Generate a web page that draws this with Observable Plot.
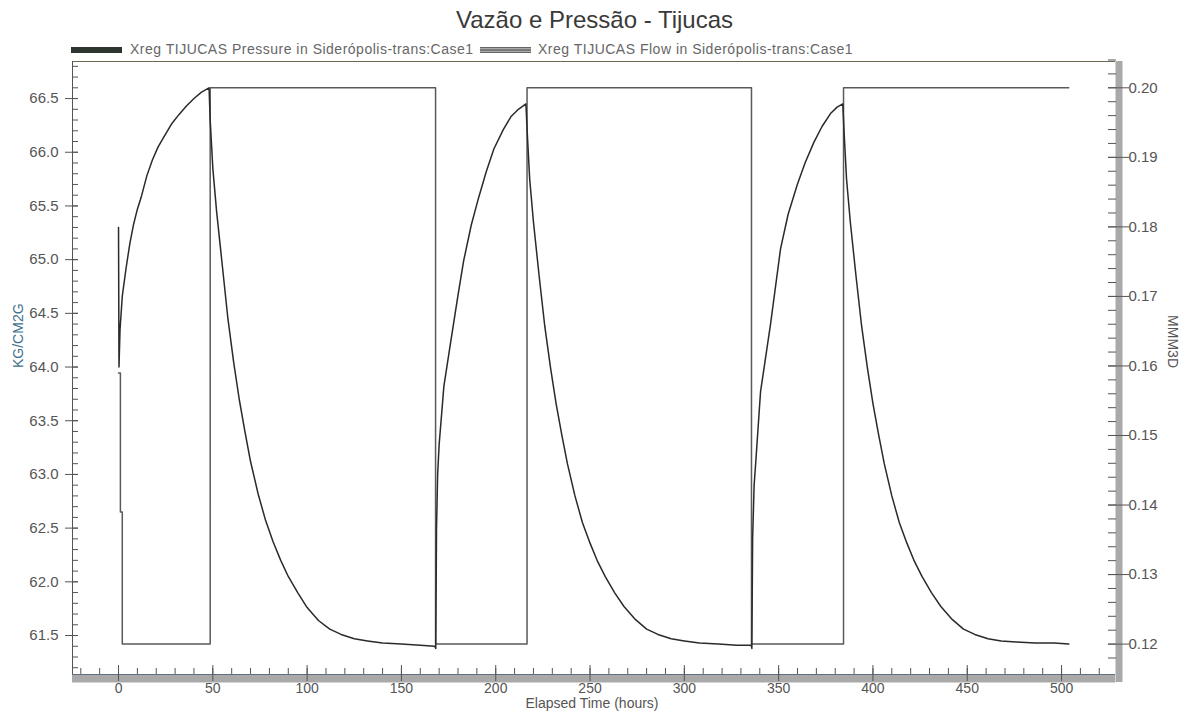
<!DOCTYPE html>
<html><head><meta charset="utf-8">
<script src="https://cdn.jsdelivr.net/npm/d3@7"></script>
<script src="https://cdn.jsdelivr.net/npm/@observablehq/plot@0.6"></script>
<style>
body{margin:0;background:#fff;font-family:"Liberation Sans",Arial,sans-serif;}
#wrap{position:relative;width:1189px;height:715px;overflow:hidden}
#head{position:relative;height:56px}
#title{position:absolute;left:0;top:6px;width:1189px;text-align:center;font-size:24px;color:#3a3a3a;line-height:28px}
.lg{position:absolute;top:41px;font-size:14px;letter-spacing:0.5px;line-height:17px;color:#666;white-space:nowrap}
.sw{position:absolute;top:47px;height:6px;width:51px}
#sw1{left:71px;background:#2d352e}
#sw2{left:480px;background:linear-gradient(#666 0 1px,#aaa 1px 2px,#7a7a7a 2px 4px,#aaa 4px 5px,#666 5px 6px)}
#chart svg{display:block}
</style></head>
<body>
<div id="wrap">
 <div id="head">
  <div id="title">Vazão e Pressão - Tijucas</div>
  <div class="sw" id="sw1"></div><div class="lg" style="left:130px">Xreg TIJUCAS Pressure in Siderópolis-trans:Case1</div>
  <div class="sw" id="sw2"></div><div class="lg" style="left:538px">Xreg TIJUCAS Flow in Siderópolis-trans:Case1</div>
 </div>
 <div id="chart"></div>
</div>
<script>
// ---- data ----
const tRise1 = [0, 0.25, 0.8, 2, 4, 6, 8, 10, 12, 15, 18, 21, 24, 28, 32, 36, 40, 44, 48];
const pRise1 = [65.30, 64.00, 64.35, 64.66, 64.92, 65.15, 65.33, 65.47, 65.58, 65.78, 65.93, 66.05, 66.14, 66.26, 66.35, 66.43, 66.50, 66.56, 66.60];
const tFall1 = [48.6, 50, 52, 55, 58, 61, 64, 67, 70, 74, 78, 82, 86, 90, 95, 100, 106, 112, 118, 125, 132, 140, 150, 160, 167.6];
const pFall1 = [66.30, 65.85, 65.45, 64.95, 64.45, 64.05, 63.70, 63.40, 63.12, 62.82, 62.57, 62.37, 62.20, 62.05, 61.90, 61.76, 61.64, 61.56, 61.51, 61.47, 61.45, 61.43, 61.42, 61.41, 61.40];
const tRise2 = [168.2, 168.6, 169.2, 170, 172.5, 176, 180, 183, 187, 190.5, 195, 199, 204, 208, 212, 216];
const pRise2 = [61.38, 62.50, 63.00, 63.28, 63.82, 64.22, 64.67, 64.99, 65.32, 65.55, 65.82, 66.03, 66.21, 66.33, 66.40, 66.45];
const tFall2 = [216.8, 218, 220, 223, 226, 229, 232, 235, 238, 242, 246, 250, 254, 258, 263, 268, 274, 280, 286, 293, 300, 308, 318, 328, 335.4];
const pFall2 = [66.15, 65.75, 65.35, 64.85, 64.38, 64.00, 63.66, 63.37, 63.10, 62.80, 62.55, 62.36, 62.19, 62.05, 61.90, 61.77, 61.65, 61.56, 61.51, 61.47, 61.45, 61.43, 61.42, 61.41, 61.41];
const tRise3 = [335.8, 336.2, 337, 337.8, 340.4, 345.7, 351, 355, 359.9, 364, 368.6, 373, 377.5, 381, 384];
const pRise3 = [61.38, 62.40, 62.90, 63.10, 63.77, 64.40, 65.10, 65.42, 65.70, 65.90, 66.09, 66.24, 66.36, 66.42, 66.45];
const tFall3 = [384.8, 386, 388, 391, 394, 397, 400, 403, 406, 410, 414, 418, 422, 426, 431, 436, 442, 448, 454, 461, 468, 476, 486, 496, 503.8];
const pFall3 = [66.15, 65.75, 65.35, 64.85, 64.38, 64.00, 63.66, 63.37, 63.10, 62.80, 62.55, 62.36, 62.19, 62.05, 61.90, 61.77, 61.65, 61.56, 61.51, 61.47, 61.45, 61.44, 61.43, 61.43, 61.42];

const flowT = [0, 1, 1, 2, 2, 48.6, 48.6, 168.1, 168.1, 216.6, 216.6, 335.6, 335.6, 384.4, 384.4, 503.8];
const flowV = [0.159, 0.159, 0.139, 0.139, 0.12, 0.12, 0.20, 0.20, 0.12, 0.12, 0.20, 0.20, 0.12, 0.12, 0.20, 0.20];

const xMajor = [0, 50, 100, 150, 200, 250, 300, 350, 400, 450, 500];
const leftMajor = [61.5, 62.0, 62.5, 63.0, 63.5, 64.0, 64.5, 65.0, 65.5, 66.0, 66.5];
const rightMajor = [0.12, 0.13, 0.14, 0.15, 0.16, 0.17, 0.18, 0.19, 0.20];

// ---- scales set-up ----
const xDomain = [-24.4, 528.6];
const yDomain = [61.137, 66.845];
const toP = f => 61.42 + 64.75 * (f - 0.12);      // right axis (flow) -> left axis units
const fromP = p => 0.12 + (p - 61.42) / 64.75;

const xMinor = d3.range(-20, 521, 10);
const leftMinor = d3.range(612, 669, 1).map(v => v / 10);
const rightMinor = d3.range(118, 205, 2).map(v => toP(v / 1000));

const press = [];
[[tRise1, pRise1], [tFall1, pFall1], [tRise2, pRise2], [tFall2, pFall2], [tRise3, pRise3], [tFall3, pFall3]]
  .forEach(([ts, ps]) => ts.forEach((t, i) => press.push({t, p: ps[i]})));
const flow = flowT.map((t, i) => ({t, f: flowV[i]}));

const tickCol = "#555";
const chart = Plot.plot({
  width: 1189, height: 659,
  marginLeft: 72, marginRight: 74, marginTop: 5, marginBottom: 41,
  x: {domain: xDomain},
  y: {domain: yDomain},
  style: {fontFamily: "'Liberation Sans', Arial, sans-serif", fontSize: "14px", color: "#555", background: "transparent"},
  marks: [
    // frame: grey shaded right and bottom borders, thin top and left
    Plot.ruleY([yDomain[0]], {stroke: "#a9a9a9", strokeWidth: 8, dy: 4}),
    Plot.ruleX([xDomain[1]], {stroke: "#a9a9a9", strokeWidth: 7, dx: 3.5, insetBottom: -8}),
    Plot.ruleY([yDomain[0]], {stroke: "#5f6f80", strokeWidth: 1}),
    Plot.ruleY([yDomain[1]], {stroke: "#6e6852", strokeWidth: 1.2}),
    Plot.ruleX([xDomain[0]], {stroke: "#555", strokeWidth: 1}),
    // x axis
    Plot.axisX({ticks: xMinor, tickSize: 6, dy: -6, fill: "none", stroke: tickCol, label: null}),
    Plot.axisX({ticks: xMajor, tickSize: 16, dy: -9, fill: "none", stroke: tickCol, label: null}),
    Plot.axisX({ticks: xMajor, tickSize: 0, tickPadding: 9, tickFormat: d => String(d), label: null, fill: "#555", fontSize: 14}),
    // left axis
    Plot.axisY({anchor: "left", ticks: leftMinor, tickSize: 6, dx: 6, fill: "none", stroke: tickCol, label: null}),
    Plot.axisY({anchor: "left", ticks: leftMajor, tickSize: 13, dx: 6, fill: "none", stroke: tickCol, label: null}),
    Plot.axisY({anchor: "left", ticks: leftMajor, tickSize: 0, tickPadding: 14, tickFormat: d => d.toFixed(1), label: null, fill: "#555", fontSize: 15}),
    // right axis (flow)
    Plot.axisY({anchor: "right", ticks: rightMinor, tickSize: 8, dx: -8, fill: "none", stroke: tickCol, label: null}),
    Plot.axisY({anchor: "right", ticks: rightMajor.map(toP), tickSize: 21, dx: -8, fill: "none", stroke: tickCol, label: null}),
    Plot.axisY({anchor: "right", ticks: rightMajor.map(toP), tickSize: 0, tickPadding: 13, tickFormat: p => fromP(p).toFixed(2), label: null, fill: "#555", fontSize: 15}),
    // axis titles
    Plot.text(["KG/CM2G"], {text: d => d, frameAnchor: "left", dx: -54, rotate: -90, fill: "#3d6f8c", fontSize: 14}),
    Plot.text(["MMM3D"], {text: d => d, frameAnchor: "right", dx: 57, rotate: 90, fill: "#555", fontSize: 14}),
    Plot.text(["Elapsed Time (hours)"], {text: d => d, frameAnchor: "bottom", dy: 33, dx: -2, fill: "#555", fontSize: 14}),
    // data
    Plot.line(flow, {x: "t", y: d => toP(d.f), stroke: "#5a5a5a", strokeWidth: 1.5}),
    Plot.line(press, {x: "t", y: "p", stroke: "#2a2a2a", strokeWidth: 1.5})
  ]
});
document.getElementById("chart").appendChild(chart);
</script>
</body></html>
